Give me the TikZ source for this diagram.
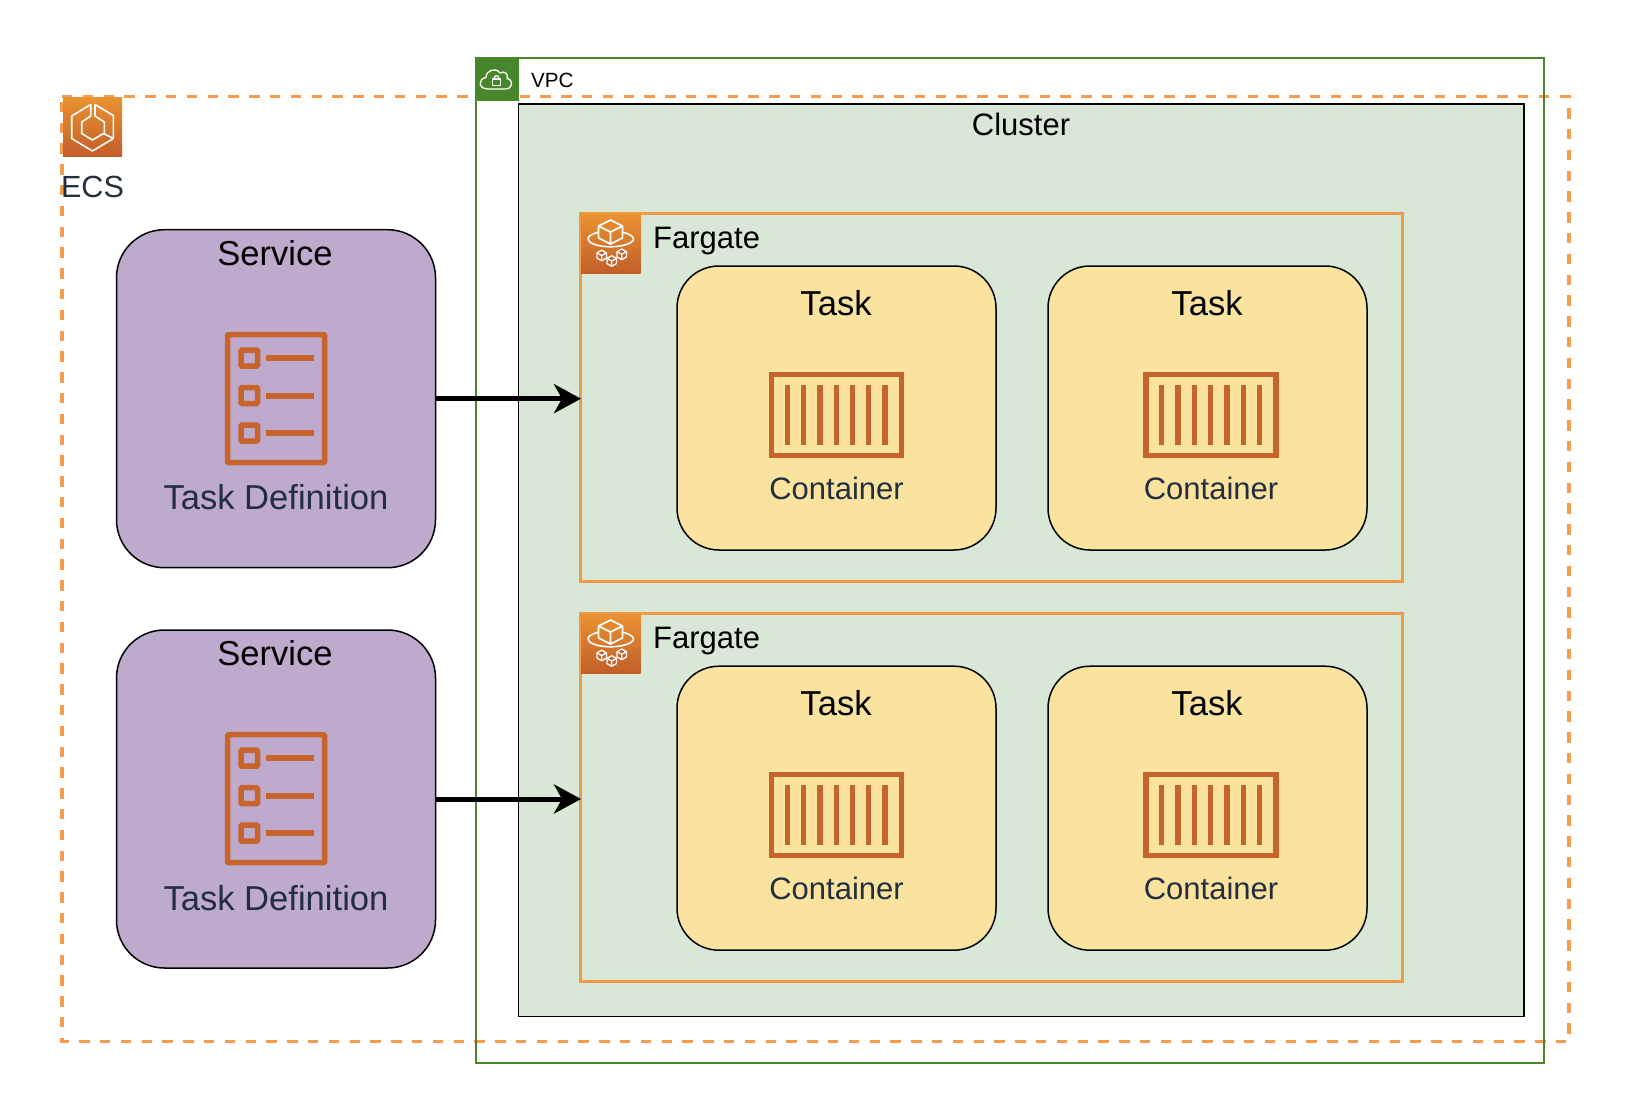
\documentclass[tikz,border=0pt]{standalone}
\usepackage{fontspec}
\setmainfont{Liberation Sans}
\usetikzlibrary{arrows.meta}
\definecolor{awsdark}{HTML}{232F3E}
\definecolor{awsorange}{HTML}{C7632C}
\definecolor{dashorange}{HTML}{F59D4C}
\definecolor{vpcgreen}{HTML}{47862B}
\definecolor{clusterfill}{HTML}{D9E7D6}
\definecolor{servicefill}{HTML}{BEAACD}
\definecolor{taskfill}{HTML}{F9E39F}
\definecolor{fargateline}{HTML}{F09A48}
\definecolor{awsgradtop}{HTML}{EA9231}
\definecolor{awsgradbot}{HTML}{C25E2A}
\tikzset{
  x=1pt,y=-1pt,
  region/.style={draw,inner sep=0pt,outer sep=0pt,anchor=north west},
  ecsbox/.style={draw=dashorange,line width=3.3pt,dash pattern=on 10.4pt off 10.4pt},
  vpcbox/.style={region,draw=vpcgreen,line width=1.4pt},
  clusterbox/.style={region,draw=black,fill=clusterfill,line width=1.8pt},
  fargatebox/.style={region,draw=fargateline,line width=3pt},
  servicebox/.style={region,draw=black,fill=servicefill,line width=1.5pt,rounded corners=48pt,minimum width=319pt,minimum height=338pt},
  taskbox/.style={region,draw=black,fill=taskfill,line width=1.5pt,rounded corners=42pt,minimum width=319pt,minimum height=284pt},
  awsicon/.style={inner sep=0pt,outer sep=0pt,anchor=north west,minimum size=59.5pt,top color=awsgradtop,bottom color=awsgradbot},
  label/.style={inner sep=0pt,text=black},
  darklabel/.style={inner sep=0pt,text=awsdark},
  white line/.style={draw=white,line width=1.6pt,line join=round,fill=none},
  flow/.style={draw=black,line width=5pt,-{Stealth[length=27pt,width=29pt,inset=8pt]},shorten >=-1pt},
  orange line/.style={draw=awsorange,line width=5.5pt},
  bigfont/.style={font=\fontsize{34.6}{35}\selectfont},
  midfont/.style={font=\fontsize{31}{31}\selectfont},
}
\newcommand{\taskdefglyph}[2]{%
  \begin{scope}[shift={(#1,#2)}]
    \draw[orange line,rounded corners=1pt] (227.5,334.5) rectangle (324.5,462.5);
    \foreach \yy in {358,395.5,433}{
      \draw[awsorange,line width=5.5pt,rounded corners=1pt] (241,\yy-8) rectangle (257.5,\yy+8);
      \draw[awsorange,line width=6pt] (265.5,\yy) -- (313.5,\yy);
    }
  \end{scope}}
\newcommand{\containerglyph}[2]{%
  \begin{scope}[shift={(#1,#2)}]
    \draw[orange line] (771.5,374.5) rectangle (901.5,455.5);
    \foreach \xx in {787.3,803.6,819.9,836.2,852.5,868.7,885}{
      \draw[awsorange,line width=5.3pt] (\xx,384.5) -- (\xx,445);
    }
  \end{scope}}
\newcommand{\fargateglyph}[2]{%
  \begin{scope}[shift={(#1,#2)}]
    \node[awsicon] at (581,214) {};
    \draw[white line] (610.5,220) -- (622.5,226) -- (622.5,238) -- (610.5,244) -- (598.5,238) -- (598.5,226) -- cycle;
    \draw[white line] (598.5,226) -- (610.5,232) -- (622.5,226) (610.5,232) -- (610.5,244);
    \draw[white line] (598.5,232) .. controls (592,234) and (588,236) .. (588,239) .. controls (588,243) and (598,246.8) .. (610.5,246.8) .. controls (623,246.8) and (633.5,243) .. (633.5,239) .. controls (633.5,236) and (629,234) .. (622.5,232);
    \foreach \cx/\cy in {601.7/255.5,611.7/261,621.7/254.3}{
      \draw[white line,line width=1.3pt,fill=awsorange] (\cx,\cy-5.3) -- (\cx+4.7,\cy-2.6) -- (\cx+4.7,\cy+2.6) -- (\cx,\cy+5.3) -- (\cx-4.7,\cy+2.6) -- (\cx-4.7,\cy-2.6) -- cycle;
      \draw[white line,line width=1.3pt] (\cx-4.7,\cy-2.6) -- (\cx,\cy) -- (\cx+4.7,\cy-2.6) (\cx,\cy) -- (\cx,\cy+5.3);
    }
  \end{scope}}
\begin{document}
\begin{tikzpicture}
\useasboundingbox (0,0) rectangle (1630,1118);
% ECS region
\draw[ecsbox] (62,96.8) -- (1569,96.8) -- (1569,1041.5) -- (62,1041.5) -- cycle;
% VPC
\node[vpcbox,minimum width=1068pt,minimum height=1005pt] (vpc) at (476,58) {};
\node[inner sep=0pt,outer sep=0pt,anchor=north west,minimum width=43pt,minimum height=43pt,fill=vpcgreen] (vpcicon) at (476,58) {};
\draw[white line,line width=1.3pt] (488,89) .. controls (478,89) and (478,78.5) .. (486,77.5) .. controls (486,70) and (496,67) .. (500,73) .. controls (505,70) and (509,75) .. (507,78.5) .. controls (514,80) and (513,89) .. (505,89) -- cycle;
\draw[white line,line width=1.3pt] (492.5,79) rectangle (500.5,85.5);
\draw[white line,line width=1.3pt] (494,79) .. controls (494,74.5) and (499,74.5) .. (499,79);
\node[label,anchor=west,font=\fontsize{20.6}{21}\selectfont] (vpclabel) at (531,80.5) {VPC};
% Cluster
\node[clusterbox,minimum width=1005.5pt,minimum height=912.5pt] (cluster) at (518.5,104) {};
\node[label,midfont] (clusterlabel) at (1021,124.5) {Cluster};
% Fargate regions
\node[fargatebox,minimum width=822pt,minimum height=368pt] (fargate1) at (580,213.5) {};
\node[fargatebox,minimum width=822pt,minimum height=368pt] (fargate2) at (580,613.5) {};
\fargateglyph{0}{0}
\fargateglyph{0}{400}
\node[label,midfont,anchor=west] (fargatelabel1) at (653,241) {Fargate};
\node[label,midfont,anchor=west] (fargatelabel2) at (653,641) {Fargate};
% Tasks
\node[taskbox] (task1) at (677,266) {};
\node[taskbox] (task2) at (1048,266) {};
\node[taskbox] (task3) at (677,666.2) {};
\node[taskbox] (task4) at (1048,666.2) {};
\node[label,bigfont] (tasklabel1) at (836,303) {Task};
\node[label,bigfont] (tasklabel2) at (1207,303) {Task};
\node[label,bigfont] (tasklabel3) at (836,703.5) {Task};
\node[label,bigfont] (tasklabel4) at (1207,703.5) {Task};
\containerglyph{0}{0}
\containerglyph{374.5}{0}
\containerglyph{0}{400.2}
\containerglyph{374.5}{400.2}
\node[darklabel,midfont] (containerlabel1) at (836.5,488.5) {Container};
\node[darklabel,midfont] (containerlabel2) at (1211,488.5) {Container};
\node[darklabel,midfont] (containerlabel3) at (836.5,888.5) {Container};
\node[darklabel,midfont] (containerlabel4) at (1211,888.5) {Container};
% Services
\node[servicebox] (service1) at (116.5,229.7) {};
\node[servicebox] (service2) at (116.5,630) {};
\node[label,bigfont] (servicelabel1) at (275,253) {Service};
\node[label,bigfont] (servicelabel2) at (275,653.5) {Service};
\taskdefglyph{0}{0}
\taskdefglyph{0}{400.2}
\node[darklabel,bigfont] (tasklabel5) at (276,497.5) {Task Definition};
\node[darklabel,bigfont] (tasklabel6) at (276,898) {Task Definition};
% Connectors
\draw[flow] (service1.east) -- (service1.east -| fargate1.west);
\draw[flow] (service2.east) -- (service2.east -| fargate2.west);
% ECS icon
\node[awsicon,minimum size=59pt] (ecsicon) at (63,97.5) {};
\draw[white line] (90.7,104.5) -- (71.7,116) -- (71.7,138.5) -- (92.5,151) -- (113.3,138.5);
\draw[white line] (90.7,104.5) -- (90.7,116) -- (81.7,122) -- (81.7,133.5) -- (92.5,140) -- (103.5,133.5) -- (113.3,138.5);
\draw[white line] (95,104.5) -- (113.3,115.5) -- (113.3,138.5);
\draw[white line] (95,104.5) -- (95,116) -- (104.3,122) -- (104.3,133.5);
\node[darklabel,font=\fontsize{30.6}{31}\selectfont] (ecslabel) at (92.5,187) {ECS};
\end{tikzpicture}
\end{document}
